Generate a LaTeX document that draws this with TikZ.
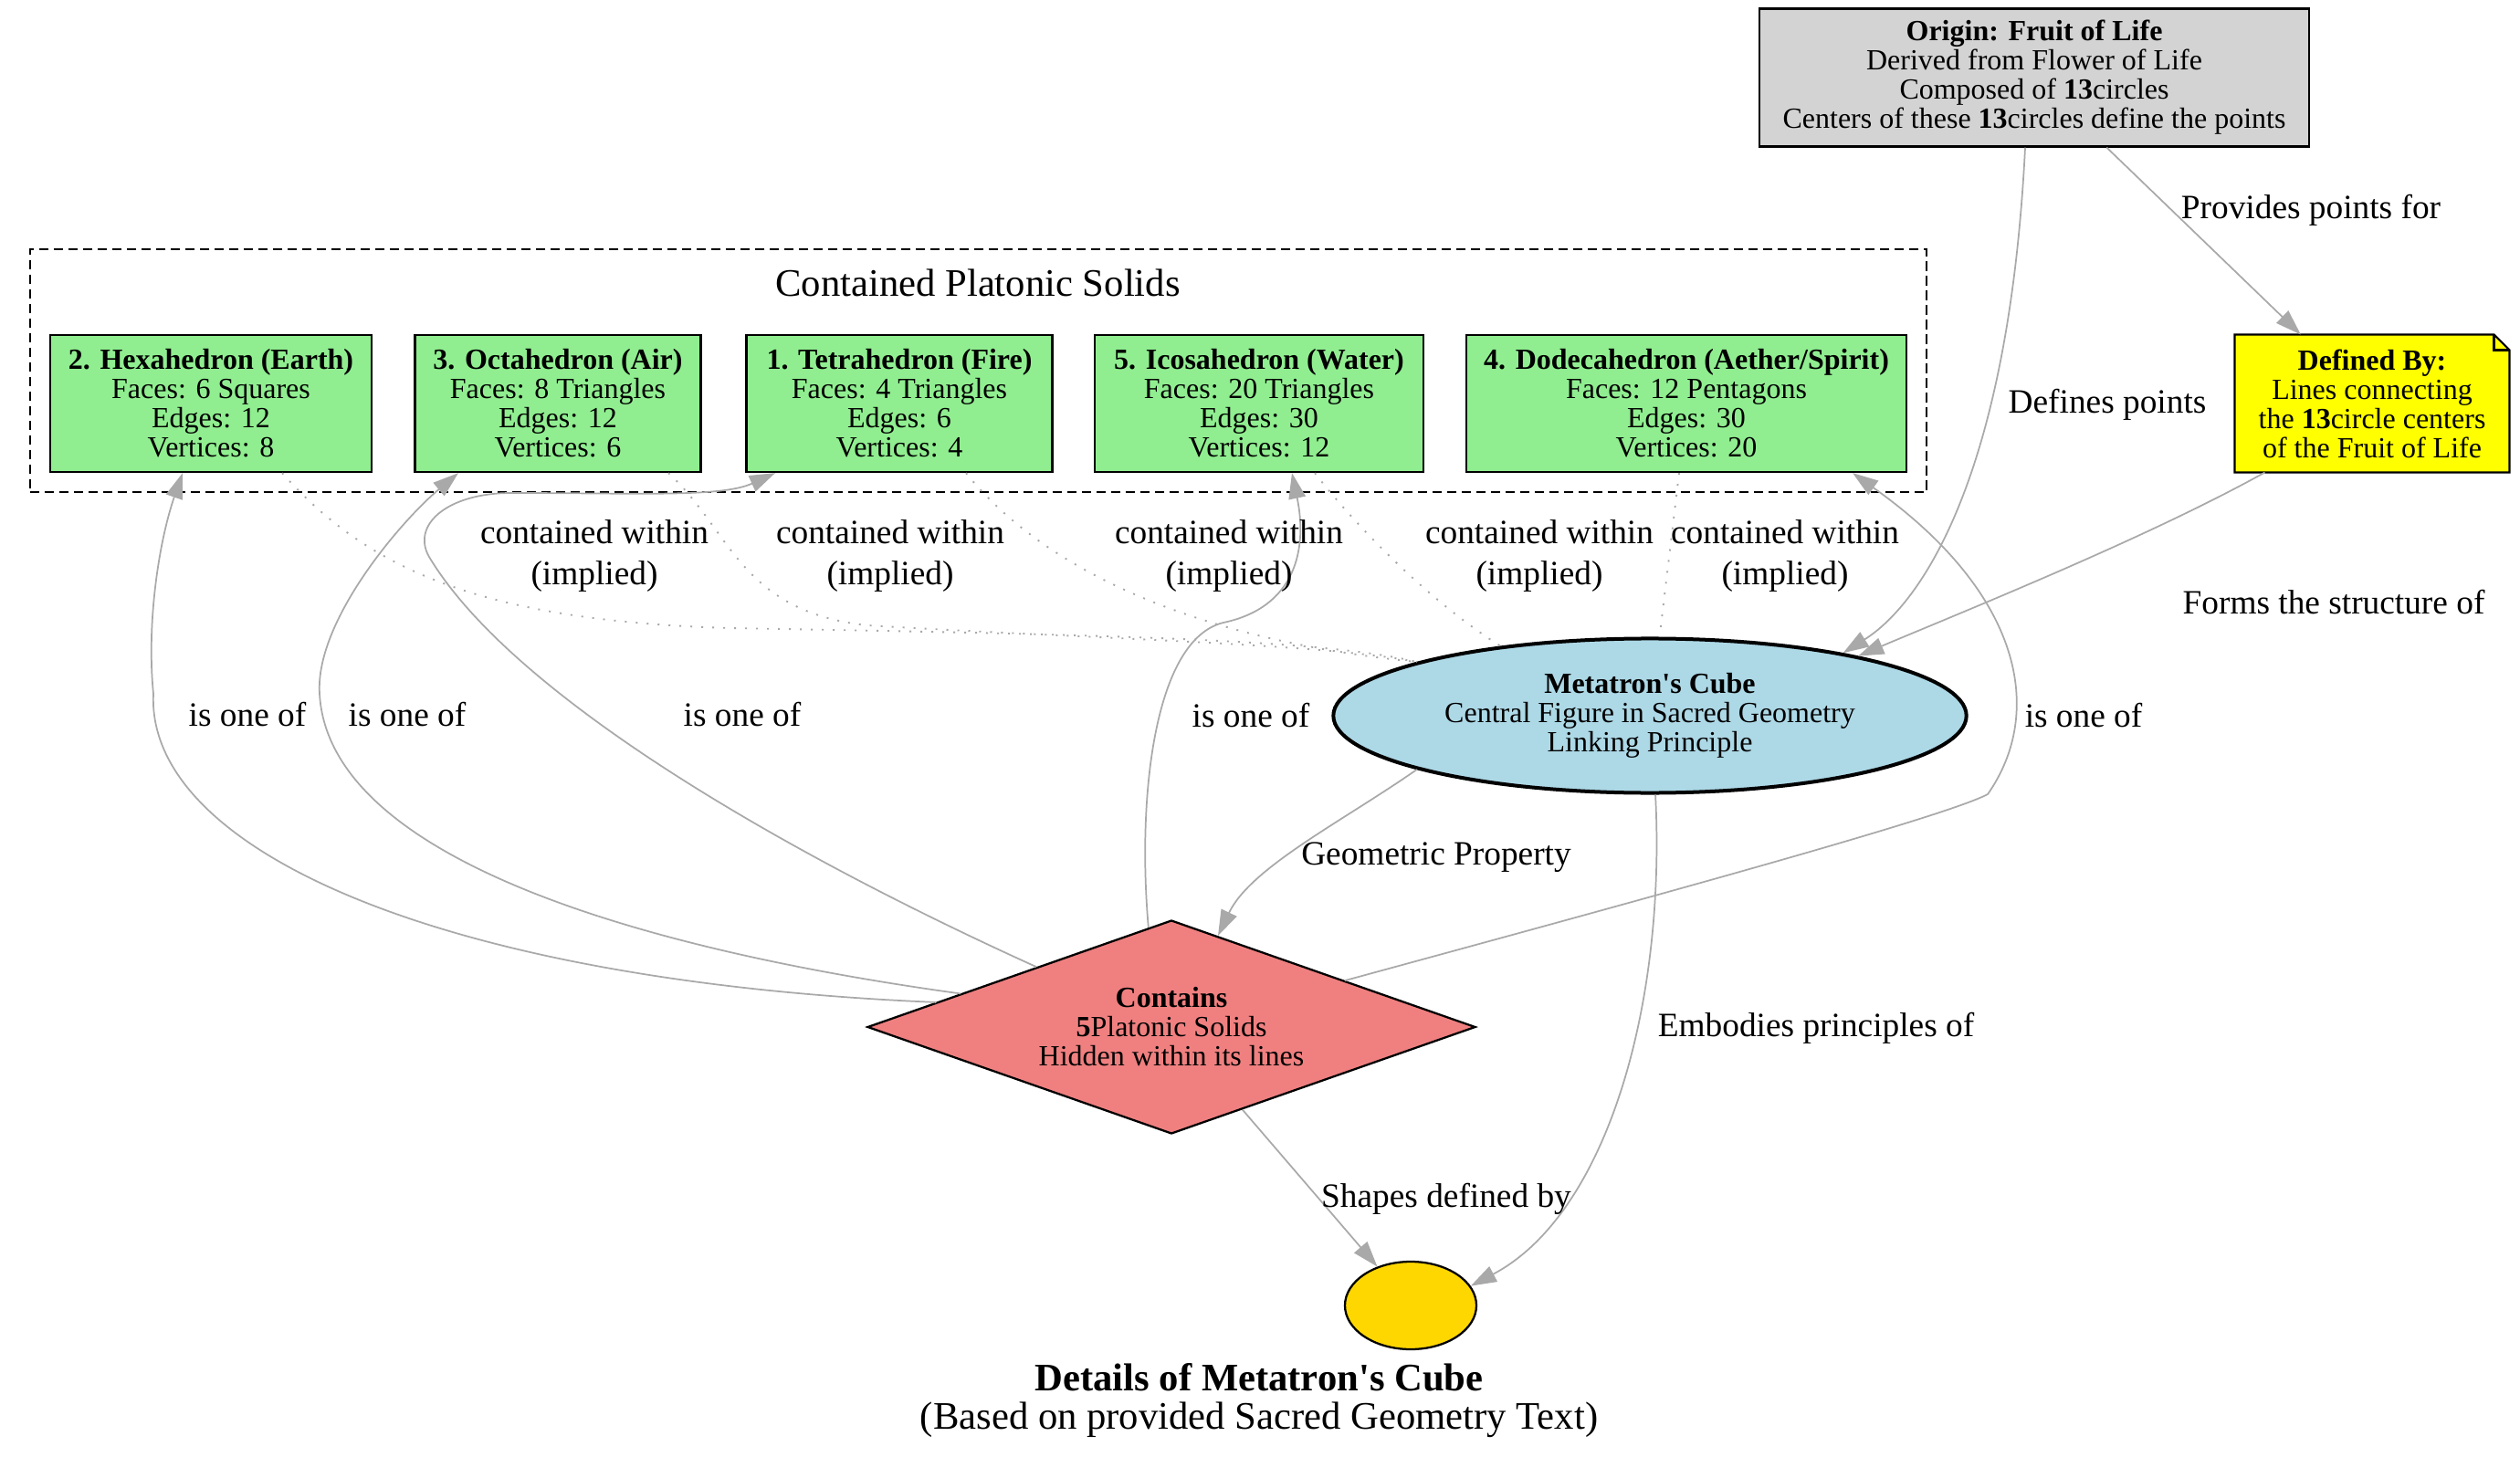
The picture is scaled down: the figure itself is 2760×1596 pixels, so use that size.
\documentclass[tikz,border=0pt]{standalone}
\usepackage{fontspec}
\setmainfont{Liberation Serif}[Ligatures=TeXOff]
\usetikzlibrary{arrows.meta,positioning,fit,calc,backgrounds,shapes.geometric}
\definecolor{fruitgray}{HTML}{D3D3D3}
\definecolor{noteyellow}{HTML}{FFFF00}
\definecolor{solidgreen}{HTML}{90EE90}
\definecolor{cubeblue}{HTML}{ADD8E6}
\definecolor{containsred}{HTML}{F08080}
\definecolor{goldnode}{HTML}{FFD700}
\definecolor{linkgray}{HTML}{A9A9A9}
\begin{document}
\begin{tikzpicture}[>={Triangle[length=10.5pt,width=7pt]},x=0.375pt,y=-0.375pt,
  txt/.style={font=\fontsize{12}{12}\selectfont,align=center},
  solidbox/.style={txt,draw,line width=0.85pt,fill=solidgreen,minimum height=56.25pt,inner sep=2pt},
  link/.style={->,linkgray,line width=0.65pt},
  implied/.style={linkgray,line width=0.7pt,dash pattern=on 0.75pt off 3.75pt},
  elabel/.style={font=\fontsize{14}{17}\selectfont,align=center,inner sep=0pt}]
\begin{scope}[on background layer]
\fill[white] (0,0) rectangle (2760,1596);
\end{scope}
\useasboundingbox (0,0) rectangle (2760,1596);

\node[txt,draw,line width=0.85pt,fill=fruitgray,minimum width=225.75pt,minimum height=56.6pt] (origin) at (2228,85)
  {\textbf{Origin: Fruit of Life}\\Derived from Flower of Life\\Composed of \textbf{13}circles\\Centers of these \textbf{13}circles define the points};
\node[txt,minimum width=112.5pt,minimum height=56.25pt] (note) at (2598,442)
  {\textbf{Defined By:}\\Lines connecting\\the \textbf{13}circle centers\\of the Fruit of Life};
\begin{scope}[on background layer]
\draw[line width=0.85pt,fill=noteyellow] (note.south west) -- (note.south east) -- ($(note.north east)+(0,17)$)
  -- ($(note.north east)+(-17,0)$) -- (note.north west) -- cycle;
\draw[line width=0.85pt] ($(note.north east)+(-17,0)$) -- ($(note.north east)+(-17,17)$) -- ($(note.north east)+(0,17)$);
\end{scope}

\node[solidbox,minimum width=132pt] (hexa) at (231,442) {\textbf{2. Hexahedron (Earth)}\\Faces: 6 Squares\\Edges: 12\\Vertices: 8};
\node[solidbox,minimum width=117.4pt] (octa) at (611,442) {\textbf{3. Octahedron (Air)}\\Faces: 8 Triangles\\Edges: 12\\Vertices: 6};
\node[solidbox,minimum width=125.6pt] (tetra) at (985,442) {\textbf{1. Tetrahedron (Fire)}\\Faces: 4 Triangles\\Edges: 6\\Vertices: 4};
\node[solidbox,minimum width=135pt] (icosa) at (1379,442) {\textbf{5. Icosahedron (Water)}\\Faces: 20 Triangles\\Edges: 30\\Vertices: 12};
\node[solidbox,minimum width=180.75pt] (dodeca) at (1847,442) {\textbf{4. Dodecahedron (Aether/Spirit)}\\Faces: 12 Pentagons\\Edges: 30\\Vertices: 20};
\node[font=\fontsize{16}{16}\selectfont,inner sep=0pt] (soltitle) at (1071,310) {Contained Platonic Solids};
\node[draw,line width=0.8pt,dash pattern=on 4pt off 2pt,inner sep=7.9pt,fit=(hexa)(dodeca)(soltitle)] (cluster) {};

\node[txt,ellipse,draw,line width=1.5pt,fill=cubeblue,minimum width=260pt,minimum height=63.4pt,inner sep=0pt] (metatron) at (1807,784)
  {\textbf{Metatron's Cube}\\Central Figure in Sacred Geometry\\Linking Principle};
\node[txt,diamond,draw,line width=0.85pt,fill=containsred,aspect=2.85,minimum width=249.75pt,minimum height=87.75pt,inner sep=0pt] (contains) at (1283,1125)
  {\textbf{Contains}\\\textbf{5}Platonic Solids\\Hidden within its lines};
\node[ellipse,draw,line width=0.85pt,fill=goldnode,minimum width=54pt,minimum height=36pt,inner sep=0pt] (gold) at (1545,1430) {};
\node[align=center,font=\fontsize{16}{16}\selectfont,inner sep=0pt] (title) at (1379,1534)
  {\textbf{Details of Metatron's Cube}\\(Based on provided Sacred Geometry Text)};

\draw[link] (origin) -- (note);
\node[elabel] (lblprovides) at (2531,230) {Provides points for};
\draw[link] ($(origin.south)+(-10,0)$) .. controls (2200,520) and (2105,661) .. (metatron.18);
\node[elabel] (lbldefines) at (2308,443) {Defines points};
\draw[link] ($(note.south west)+(33,0)$) .. controls (2350,590) and (2150,670) .. (metatron.16);
\node[elabel] (lblforms) at (2556,660) {Forms the structure of};
\draw[link] (metatron.193) .. controls (1470,900) and (1370,950) .. (contains.63);
\node[elabel] (lblgeometric) at (1573,939) {Geometric Property};
\draw[link] (metatron.-86) .. controls (1825,1100) and (1760,1330) .. (gold.18);
\node[elabel] (lblembodies) at (1989,1126) {Embodies principles of};
\draw[link] (contains) -- (gold);
\node[elabel] (lblshapes) at (1584,1313) {Shapes defined by};

\draw[link] (contains.174) .. controls (480,1075) and (160,930) .. (168,760) .. controls (160,680) and (175,590) .. ($(hexa.south)+(-31,0)$);
\draw[link] (contains.171) .. controls (700,1040) and (360,940) .. (350,760) .. controls (345,680) and (440,570) .. ($(octa.south)+(-109,0)$);
\draw[link] (contains.156) .. controls (850,930) and (560,760) .. (470,610) .. controls (450,575) and (490,540) .. (560,540)
  .. controls (700,540) and (790,545) .. ($(tetra.south)+(-136,0)$);
\draw[link] (contains.103) .. controls (1245,870) and (1265,700) .. (1340,682) .. controls (1420,665) and (1432,600) .. ($(icosa.south)+(36,0)$);
\draw[link] (contains.15) .. controls (1800,985) and (2130,895) .. (2177,870) .. controls (2240,780) and (2215,650) .. ($(dodeca.south)+(182,0)$);
\node[elabel] (lblhexa) at (271,783) {is one of};
\node[elabel] (lblocta) at (446,783) {is one of};
\node[elabel] (lbltetra) at (813,783) {is one of};
\node[elabel] (lblicosa) at (1370,784) {is one of};
\node[elabel] (lbldodeca) at (2282,784) {is one of};

\draw[implied] ($(hexa.south)+(78,0)$) .. controls (400,620) and (520,680) .. (800,688) .. controls (1200,695) and (1450,700) .. (metatron.167);
\draw[implied] ($(octa.south)+(121,0)$) .. controls (800,580) and (810,670) .. (950,685) .. controls (1200,700) and (1450,705) .. (metatron.167);
\draw[implied] ($(tetra.south)+(73,0)$) .. controls (1140,620) and (1300,700) .. (metatron.167);
\draw[implied] ($(icosa.south)+(61,0)$) .. controls (1480,570) and (1560,655) .. (metatron.155);
\draw[implied] ($(dodeca.south)+(-8,0)$) -- (metatron.83);
\node[elabel] (lblinhexa) at (651,609) {contained within\\(implied)};
\node[elabel] (lblinocta) at (975,609) {contained within\\(implied)};
\node[elabel] (lblintetra) at (1346,609) {contained within\\(implied)};
\node[elabel] (lblinicosa) at (1686,609) {contained within\\(implied)};
\node[elabel] (lblindodeca) at (1955,609) {contained within\\(implied)};
\end{tikzpicture}
\end{document}
